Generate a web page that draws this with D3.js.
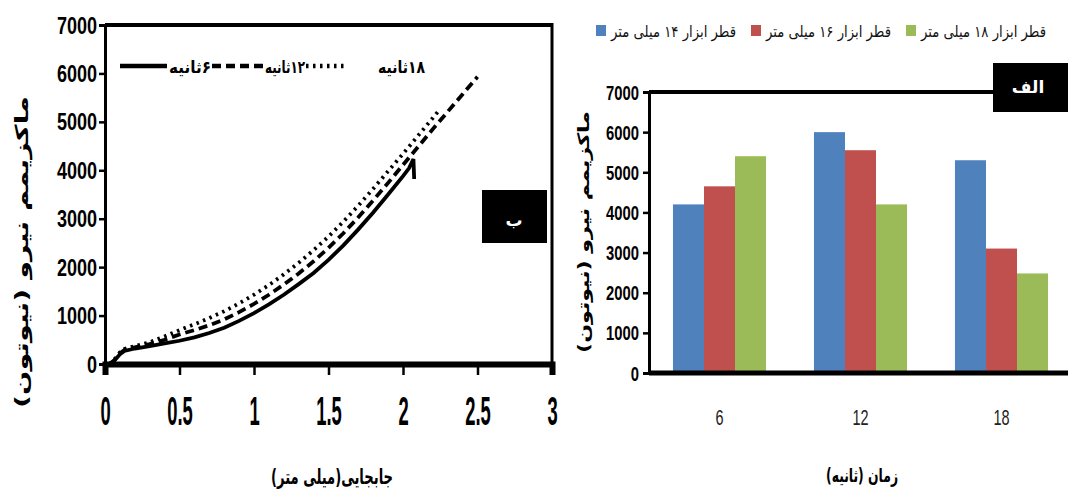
<!DOCTYPE html>
<html><head><meta charset="utf-8">
<script src="https://cdn.jsdelivr.net/npm/d3@7"></script>
<style>
html,body{margin:0;padding:0;background:#fff;}
svg{display:block;}
.num{font-family:"Liberation Sans","Arial",sans-serif;font-weight:bold;}
.ar{font-family:"DejaVu Sans",sans-serif;}
</style></head>
<body>
<svg id="c" width="1068" height="495"></svg>
<script>
// ---------- Data: left chart (force vs displacement) ----------
const lineSeries = ["۶ثانیه", "۱۲ثانیه", "۱۸ثانیه"];
const curve6 = [[0.03,0],[0.06,60],[0.1,200],[0.13,270],[0.2,320],[0.3,370],[0.4,425],[0.5,480],[0.6,550],[0.7,640],[0.8,750],[0.9,890],[1.0,1050],[1.1,1230],[1.2,1430],[1.3,1650],[1.4,1880],[1.5,2150],[1.6,2450],[1.7,2780],[1.8,3130],[1.9,3500],[2.0,3880],[2.04,4040],[2.07,4230],[2.075,3820]];
const curve12 = [[0.03,0],[0.06,70],[0.1,220],[0.13,290],[0.2,345],[0.3,410],[0.4,500],[0.5,610],[0.6,700],[0.7,800],[0.8,920],[0.9,1070],[1.0,1240],[1.1,1430],[1.2,1640],[1.3,1870],[1.4,2120],[1.5,2400],[1.6,2700],[1.7,3030],[1.8,3380],[1.9,3740],[2.0,4110],[2.1,4480],[2.2,4850],[2.3,5210],[2.4,5570],[2.5,5930]];
const curve18 = [[0.03,0],[0.06,80],[0.1,240],[0.13,310],[0.2,370],[0.3,450],[0.4,570],[0.5,700],[0.6,820],[0.7,950],[0.8,1090],[0.9,1250],[1.0,1430],[1.1,1630],[1.2,1850],[1.3,2090],[1.4,2350],[1.5,2630],[1.6,2940],[1.7,3270],[1.8,3620],[1.9,3980],[2.0,4340],[2.1,4710],[2.2,5080],[2.25,5270]];
const leftXTicks = [0, 0.5, 1, 1.5, 2, 2.5, 3];
const yTicks = [0, 1000, 2000, 3000, 4000, 5000, 6000, 7000];

// ---------- Data: right chart (bar chart) ----------
const times = ["6", "12", "18"];
const barSeries = ["قطر ابزار ۱۴ میلی متر", "قطر ابزار ۱۶ میلی متر", "قطر ابزار ۱۸ میلی متر"];
const d14 = [4200, 6000, 5300];
const d16 = [4650, 5550, 3100];
const d18 = [5400, 4200, 2480];
const barColors = ["#4F81BD", "#C0504D", "#9BBB59"];

const yTitle = "ماکزیمم نیرو (نیوتون)";
const leftXTitle = "جابجایی(میلی متر)";
const rightXTitle = "زمان (ثانیه)";

const svg = d3.select("#c");

// ================= LEFT CHART =================
const lx = d3.scaleLinear().domain([0,3]).range([105,552]);
const ly = d3.scaleLinear().domain([0,7000]).range([364,25]);

const L = svg.append("g");
// frame
L.append("line").attr("x1",lx(0)).attr("x2",lx(3)).attr("y1",ly(7000)).attr("y2",ly(7000)).attr("stroke","#000").attr("stroke-width",4);
L.append("line").attr("x1",lx(3)).attr("x2",lx(3)).attr("y1",ly(7000)-2).attr("y2",ly(0)).attr("stroke","#000").attr("stroke-width",3);

// axes
const lAxisY = d3.axisLeft(ly).tickValues(yTicks).tickSize(6).tickFormat(d3.format("d"));
const gly = L.append("g").attr("transform",`translate(${lx(0)},0)`).call(lAxisY);
gly.select(".domain").attr("stroke","#000").attr("stroke-width",3);
gly.selectAll(".tick line").attr("stroke","#000").attr("stroke-width",2.5);
gly.selectAll(".tick text").attr("class","num").attr("font-size",22).attr("fill","#000")
  .attr("x",0).attr("dy",0).attr("text-anchor","end")
  .attr("transform","translate(-8,8) scale(0.82,1.12)");

const lAxisX = d3.axisBottom(lx).tickValues(leftXTicks).tickSize(11).tickFormat(d => d3.format("")(d));
const glx = L.append("g").attr("transform",`translate(0,${ly(0)})`).call(lAxisX);
glx.select(".domain").attr("stroke","#000").attr("stroke-width",6);
glx.selectAll(".tick line").attr("stroke","#000").attr("stroke-width",2.5);
glx.selectAll(".tick text").attr("class","num").attr("font-size",23).attr("fill","#000")
  .attr("y",0).attr("dy",0)
  .attr("transform","translate(0,61) scale(0.8,1.75)");

// curves
const line = d3.line().x(d=>lx(d[0])).y(d=>ly(d[1])).curve(d3.curveLinear);
const styles = [
  {data: curve6, dash: null},
  {data: curve12, dash: "9,5"},
  {data: curve18, dash: "2.5,4.5"}
];
styles.forEach(s => {
  L.append("path").datum(s.data).attr("d",line).attr("fill","none").attr("stroke","#000")
   .attr("stroke-width",3.8).attr("stroke-dasharray",s.dash);
});

// legend (left chart)
const legY = 66;
const legItems = [
  {x1:120,x2:167,tx:169,tw:42,dash:null,label:lineSeries[0]},
  {x1:212,x2:264,tx:265,tw:40,dash:"9,5",label:lineSeries[1]},
  {x1:306,x2:345,tx:378,tw:47,dash:"2.5,4.5",label:lineSeries[2]}
];
legItems.forEach(it => {
  L.append("line").attr("x1",it.x1).attr("x2",it.x2).attr("y1",legY).attr("y2",legY)
    .attr("stroke","#000").attr("stroke-width",4.5).attr("stroke-dasharray",it.dash);
  L.append("text").attr("class","ar").attr("x",it.tx + it.tw).attr("y",legY+7).attr("font-size",17).attr("font-weight","bold")
    .attr("direction","rtl").style("unicode-bidi","embed")
    .attr("text-anchor","start").attr("textLength",it.tw).attr("lengthAdjust","spacingAndGlyphs")
    .text(it.label);
});

// label box ب
L.append("rect").attr("x",482).attr("y",190).attr("width",65).attr("height",53).attr("fill","#000");
L.append("text").attr("class","ar").attr("x",514).attr("y",226).attr("text-anchor","middle").attr("font-size",17).attr("font-weight","bold").attr("fill","#fff").text("ب");

// titles
L.append("text").attr("class","ar").attr("transform","translate(28,252) rotate(-90)")
  .attr("text-anchor","middle").attr("font-size",18).attr("font-weight","bold")
  .attr("textLength",312).attr("lengthAdjust","spacingAndGlyphs").text(yTitle);
L.append("text").attr("class","ar").attr("x",332).attr("y",484).attr("text-anchor","middle")
  .attr("font-size",21).attr("font-weight","bold").attr("textLength",122).attr("lengthAdjust","spacingAndGlyphs").text(leftXTitle);

// ================= RIGHT CHART =================
const rx0 = d3.scaleBand().domain(times).range([649,1072]).paddingInner(0.34).paddingOuter(0.17);
const rx1 = d3.scaleBand().domain(barSeries).range([0, rx0.bandwidth()]).padding(0);
const ry = d3.scaleLinear().domain([0,7000]).range([373,92]);
const seriesValues = [d14, d16, d18];

const R = svg.append("g");
times.forEach((t, i) => {
  barSeries.forEach((s, j) => {
    R.append("rect").attr("x", rx0(t) + rx1(s)).attr("y", ry(seriesValues[j][i]))
      .attr("width", rx1.bandwidth()).attr("height", ry(0) - ry(seriesValues[j][i]))
      .attr("fill", barColors[j]);
  });
});

// top line
R.append("line").attr("x1",649).attr("x2",1068).attr("y1",ry(7000)).attr("y2",ry(7000)).attr("stroke","#000").attr("stroke-width",4);

const rAxisY = d3.axisLeft(ry).tickValues(yTicks).tickSize(6).tickFormat(d3.format("d"));
const gry = R.append("g").attr("transform","translate(649,0)").call(rAxisY);
gry.select(".domain").attr("stroke","#000").attr("stroke-width",3);
gry.selectAll(".tick line").attr("stroke","#000").attr("stroke-width",2.5);
gry.selectAll(".tick text").attr("class","num").attr("font-size",19).attr("fill","#000")
  .attr("x",0).attr("dy",0).attr("text-anchor","end")
  .attr("transform","translate(-10,7) scale(0.78,1.08)");

const rAxisX = d3.axisBottom(rx0).tickSize(0);
const grx = R.append("g").attr("transform",`translate(0,${ry(0)})`).call(rAxisX);
grx.select(".domain").attr("stroke","#000").attr("stroke-width",5).attr("d","M649,0H1068");
grx.selectAll(".tick text").attr("font-family","'Liberation Sans',sans-serif")
  .attr("font-size",17).attr("fill","#222").attr("y",0).attr("dy",0)
  .attr("transform","translate(0,52) scale(0.85,1.35)");

// label box الف
R.append("rect").attr("x",993).attr("y",63).attr("width",75).attr("height",49).attr("fill","#000");
R.append("text").attr("class","ar").attr("x",1028).attr("y",93).attr("text-anchor","middle").attr("font-size",17).attr("font-weight","bold").attr("fill","#fff").text("الف");

// legend (right chart)
const lgx = [596, 751, 906];
barSeries.forEach((s, j) => {
  R.append("rect").attr("x", lgx[j]).attr("y", 25).attr("width", 10).attr("height", 11).attr("fill", barColors[j]);
  R.append("text").attr("class","ar").attr("x", lgx[j] + 15 + 125).attr("y", 37).attr("font-size", 16)
    .attr("direction","rtl").style("unicode-bidi","embed").attr("text-anchor","start")
    .attr("textLength", 125).attr("lengthAdjust","spacingAndGlyphs").attr("fill","#111").text(s);
});

// titles
R.append("text").attr("class","ar").attr("transform","translate(589,232) rotate(-90)")
  .attr("text-anchor","middle").attr("font-size",16).attr("font-weight","bold")
  .attr("textLength",242).attr("lengthAdjust","spacingAndGlyphs").text(yTitle);
R.append("text").attr("class","ar").attr("x",862).attr("y",482).attr("text-anchor","middle")
  .attr("font-size",19).attr("font-weight","bold").attr("textLength",72).attr("lengthAdjust","spacingAndGlyphs").text(rightXTitle);
</script>
</body></html>
